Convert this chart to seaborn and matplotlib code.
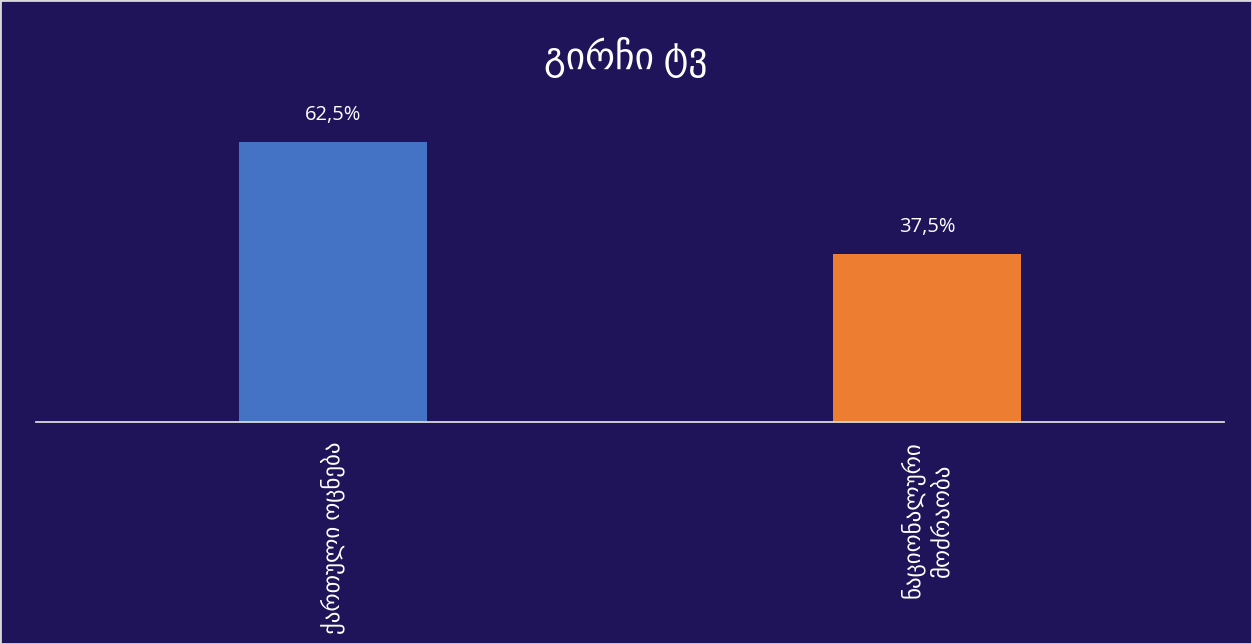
import matplotlib
matplotlib.use("Agg")
import matplotlib.pyplot as plt
import seaborn as sns
import pandas as pd
from matplotlib.patches import Rectangle

# Datos del gráfico
categorias = ["ქართული ოცნება", "ნაციონალური\nმოძრაობა"]
valores = [62.5, 37.5]
etiquetas = ["62,5%", "37,5%"]
colores = ["#4472C4", "#ED7D31"]
titulo = "გირჩი ტვ"

fondo = "#1F1459"
df = pd.DataFrame({"categoria": categorias, "valor": valores})

sns.set_theme(style="white")
plt.rcParams["font.family"] = ["Open Sans", "DejaVu Sans"]

fig = plt.figure(figsize=(12.52, 6.44), dpi=100, facecolor=fondo)
ax = fig.add_axes([36 / 1252, 222 / 644, 1188 / 1252, 322 / 644])
ax.set_facecolor(fondo)

sns.barplot(data=df, x="categoria", y="valor", hue="categoria",
            palette=colores, width=0.315, saturation=1, legend=False,
            linewidth=0, ax=ax)

ax.set_xlim(-0.5, 1.5)
ax.set_ylim(0, 322 / 4.48)

# Etiquetas de valor sobre cada barra
for i, (v, t) in enumerate(zip(valores, etiquetas)):
    ax.text(i, v + 3.8, t, ha="center", va="bottom", color="white", fontsize=14.5)

for s in ["left", "right", "top"]:
    ax.spines[s].set_visible(False)
ax.spines["bottom"].set_color("#D9D9D9")
ax.spines["bottom"].set_linewidth(1.3)
ax.set_yticks([])
ax.set_xlabel("")
ax.set_ylabel("")
ax.tick_params(axis="x", length=0, pad=14, colors="white")
for lbl in ax.get_xticklabels():
    lbl.set_rotation(90)
    lbl.set_fontsize(16.5)
    lbl.set_multialignment("center")
    lbl.set_linespacing(1.3)

fig.text(0.5, 1 - 58 / 644, titulo, ha="center", va="center", color="white", fontsize=27)

# Marco gris alrededor de la figura
fig.patches.append(Rectangle((0, 0), 1, 1, transform=fig.transFigure, fill=False,
                             edgecolor="#D9D9D9", linewidth=2))

fig.savefig("out.png", dpi=100, facecolor=fondo)
